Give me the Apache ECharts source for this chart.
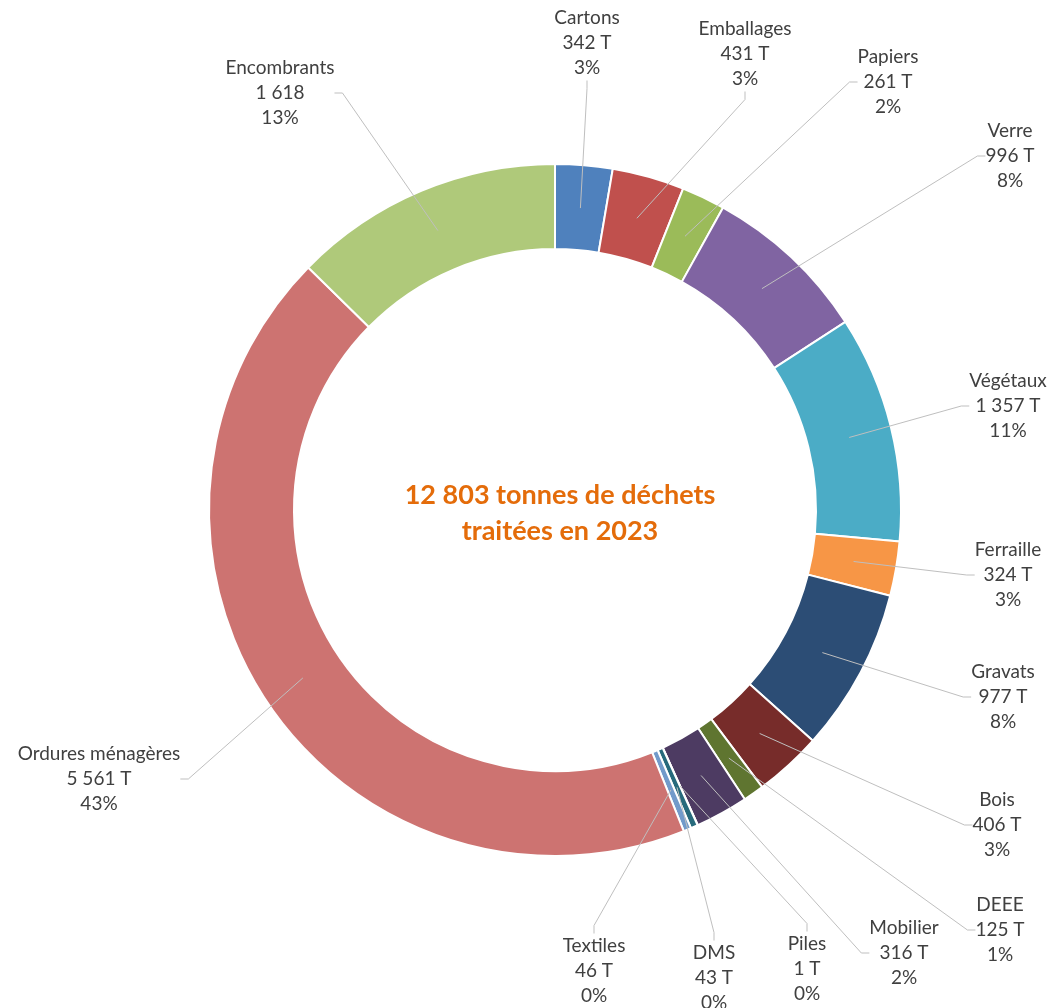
<!DOCTYPE html>
<html>
<head>
<meta charset="utf-8">
<script src="https://cdn.jsdelivr.net/npm/echarts@6/dist/echarts.min.js"></script>
<style>
  html, body { margin: 0; padding: 0; background: #fff; }
  #chart { width: 1052px; height: 1008px; }
</style>
</head>
<body>
<div id="chart"></div>
<script>
// données (ordre horaire depuis le haut)
const categories = ['Cartons', 'Emballages', 'Papiers', 'Verre', 'Végétaux', 'Ferraille', 'Gravats',
  'Bois', 'DEEE', 'Mobilier', 'Piles', 'DMS', 'Textiles', 'Ordures ménagères', 'Encombrants'];
const tonnes = [342, 431, 261, 996, 1357, 324, 977, 406, 125, 316, 1, 43, 46, 5561, 1618];
const units = [' T', ' T', ' T', ' T', ' T', ' T', ' T', ' T', ' T', ' T', ' T', ' T', ' T', ' T', ''];
const centerTitle = '12 803 tonnes de déchets\ntraitées en 2023';

const colors = ['#4F81BD', '#C0504D', '#9BBB59', '#8064A2', '#4BACC6', '#F79646', '#2C4D75',
  '#772C2A', '#5F7530', '#4D3B62', '#B65708', '#276A7C', '#729ACA', '#CD7371', '#AFC97A'];

// position des étiquettes (centre du bloc de texte)
const labelPos = [
  [587, 43], [745, 54], [888, 82], [1010, 156], [1008, 406], [1008, 575], [1003, 697],
  [997, 825], [1000, 930], [904, 953], [807, 969], [714, 978], [594, 971], [99, 779], [280, 93]
];

const total = tonnes.reduce((a, b) => a + b, 0);
const fmt = v => String(v).replace(/\B(?=(\d{3})+(?!\d))/g, ' ');

const chart = echarts.init(document.getElementById('chart'));
const seriesData = categories.map((name, i) => ({
  name,
  value: tonnes[i],
  itemStyle: { color: colors[i] }
}));

chart.setOption({
  backgroundColor: '#fff',
  animation: false,
  graphic: [{
    type: 'text',
    x: 560,
    y: 513,
    z: 10,
    style: {
      text: centerTitle,
      fill: '#E46C0A',
      font: 'bold 27px Lato',
      lineHeight: 36,
      textAlign: 'center',
      textVerticalAlign: 'middle'
    }
  }],
  series: [
    {
      // anneau
      type: 'pie',
      z: 1,
      center: [555, 510],
      radius: [261, 346],
      startAngle: 90,
      clockwise: true,
      silent: true,
      label: { show: false },
      labelLine: { show: false },
      itemStyle: { borderColor: '#fff', borderWidth: 2 },
      data: seriesData
    },
    {
      // série invisible pour les étiquettes (lignes partant du milieu de l'anneau)
      type: 'pie',
      z: 5,
      center: [555, 510],
      radius: [0, 303],
      startAngle: 90,
      clockwise: true,
      silent: true,
      itemStyle: { color: 'rgba(0,0,0,0)' },
      label: {
        show: true,
        position: 'outside',
        color: '#404040',
        fontFamily: 'Lato',
        fontSize: 19,
        lineHeight: 25,
        align: 'center',
        formatter: p => p.name + '\n' + fmt(p.value) + units[p.dataIndex] + '\n' +
          Math.round(p.value / total * 100) + '%'
      },
      labelLine: {
        show: true,
        length: 20,
        length2: 8,
        lineStyle: { color: '#BFBFBF', width: 1 }
      },
      labelLayout: params => ({
        x: labelPos[params.dataIndex][0],
        y: labelPos[params.dataIndex][1],
        align: 'center',
        verticalAlign: 'middle'
      }),
      data: categories.map((name, i) => ({ name, value: tonnes[i] }))
    }
  ]
});
</script>
</body>
</html>
